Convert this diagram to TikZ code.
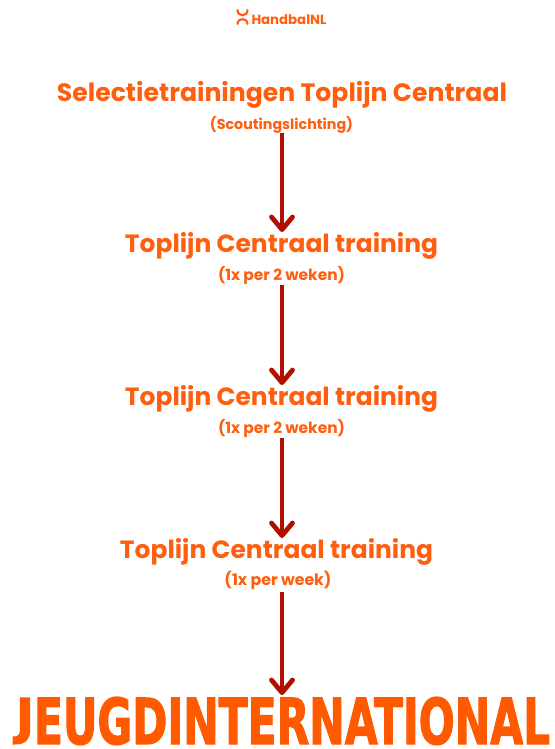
\documentclass[tikz,border=0pt]{standalone}
\usepackage{fontspec}
\setmainfont{Poppins}
\newfontfamily\bigfont{DejaVu Sans Condensed}[FakeBold=2]
\usetikzlibrary{calc}
\definecolor{org}{HTML}{FF5E0E}
\definecolor{bigorg}{HTML}{FF5A00}
\definecolor{arrred}{HTML}{B01000}
\tikzset{
  lbl/.style={inner sep=0pt, outer sep=0pt, text=org, anchor=base, font=\bfseries},
  shaft/.style={draw=arrred, line width=4.6pt},
  headline/.style={draw=arrred, line width=4.8pt, line cap=round, line join=round},
  logoline/.style={draw=org, line width=2.1pt, line cap=round}
}
\newcommand\myarrow[2]{%
  \draw[shaft] (#1) -- ($(#2)+(0,-4)$);
  \draw[headline] ($(#2)+(-10.5,-15)$) -- ($(#2)+(0,-2.4)$) -- ($(#2)+(10.5,-15)$);
}
\newcommand\flatJ{\resizebox{1.15\width}{\fontcharht\font`\E}{\raisebox{\depth}{J}}}
\begin{document}
\begin{tikzpicture}[x=1pt,y=-1pt]
\useasboundingbox[fill=white] (0,0) rectangle (554,749);
% logo
\coordinate (icA) at (237.5,10);
\coordinate (icB) at (247.5,10);
\coordinate (icC) at (237.5,24);
\coordinate (icD) at (247.5,24);
\draw[logoline] (icA) .. controls (237.5,17) and (247.5,17) .. (icB);
\draw[logoline] (icC) .. controls (237.5,17.5) and (247.5,17.5) .. (icD);
\node[lbl, anchor=base west] (logo) at (251.5,24.5) {\resizebox{75pt}{!}{HandbalNL}};
% labels
\node[lbl] (t1) at (282,102) {\resizebox{450pt}{!}{Selectietrainingen Toplijn Centraal}};
\node[lbl] (s1) at (281.5,129) {\resizebox{143pt}{!}{(Scoutingslichting)}};
\node[lbl] (t2) at (281.5,252) {\resizebox{313pt}{!}{Toplijn Centraal training}};
\node[lbl] (s2) at (281.5,280) {\resizebox{127pt}{!}{(1x per 2 weken)}};
\node[lbl] (t3) at (281.5,405) {\resizebox{313pt}{!}{Toplijn Centraal training}};
\node[lbl] (s3) at (281.5,433) {\resizebox{127pt}{!}{(1x per 2 weken)}};
\node[lbl] (t4) at (276.5,558) {\resizebox{313pt}{!}{Toplijn Centraal training}};
\node[lbl] (s4) at (278,585) {\resizebox{107pt}{!}{(1x per week)}};
\node[inner sep=0pt, outer sep=0pt, anchor=base, text=bigorg] (jeugd) at (283,744)
  {\resizebox{534pt}{47pt}{\bigfont\bfseries\flatJ EUGDINTERNATIONAL}};
% arrows
\coordinate (a1s) at (282,133);
\coordinate (a1e) at (282,232);
\coordinate (a2s) at (282,285);
\coordinate (a2e) at (282,385);
\coordinate (a3s) at (282,438);
\coordinate (a3e) at (282,538);
\coordinate (a4s) at (282,592);
\coordinate (a4e) at (282,695);
\myarrow{a1s}{a1e}
\myarrow{a2s}{a2e}
\myarrow{a3s}{a3e}
\myarrow{a4s}{a4e}
\end{tikzpicture}
\end{document}
